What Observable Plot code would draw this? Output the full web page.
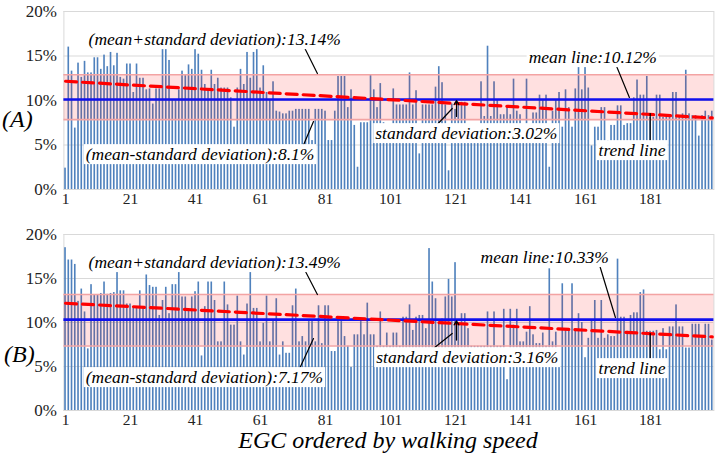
<!DOCTYPE html>
<html>
<head>
<meta charset="utf-8">
<script src="https://cdn.jsdelivr.net/npm/d3@7"></script>
<script src="https://cdn.jsdelivr.net/npm/@observablehq/plot@0.6"></script>
<style>
  html, body { margin: 0; padding: 0; background: #fff; }
  #wrap { position: relative; width: 719px; height: 459px; font-family: "Liberation Serif", serif; }
  #wrap svg { position: absolute; left: 0; }
  .plabel { position: absolute; font-style: italic; font-size: 24px; }
  #title { position: absolute; left: 63px; width: 650px; top: 427px; text-align: center; font-style: italic; font-size: 24px; }
</style>
</head>
<body>
<div id="wrap">
  <div class="plabel" style="left:2px; top:106px;">(A)</div>
  <div class="plabel" style="left:4px; top:341px;">(B)</div>
  <div id="title">EGC ordered by walking speed</div>
</div>
<script>
const FONT = "'Liberation Serif', serif";

// ---- data (percent values, bars 1..200) ----
const valuesA = [
2.4,16.0,13.3,6.9,14.2,12.6,14.4,13.1,13.1,14.8,14.8,13.5,15.1,13.8,15.4,13.9,15.3,12.6,12.4,14.1,
14.1,10.9,14.1,12.5,12.5,11.2,11.3,9.6,11.3,11.3,15.9,15.9,14.5,10.0,10.0,11.2,13.3,12.8,14.0,13.5,
16.0,15.2,13.4,11.8,11.1,13.4,11.8,12.5,11.4,11.4,11.4,10.3,7.0,11.4,13.5,11.8,15.4,12.5,15.4,15.8,
11.4,13.9,10.9,10.0,12.1,8.8,8.7,8.5,8.5,8.8,8.8,9.0,9.0,9.0,9.0,9.0,5.5,9.0,9.0,9.0,
8.8,5.5,5.5,8.8,12.7,12.7,12.7,9.2,11.2,7.2,2.5,7.5,7.5,7.5,12.9,11.2,9.2,11.9,7.5,6.2,
6.2,11.3,9.5,9.5,9.5,9.5,13.1,9.5,11.1,4.0,9.5,9.5,9.5,9.5,11.5,13.8,12.0,9.5,2.1,9.6,
9.0,9.6,9.8,9.8,5.5,5.5,5.5,5.5,12.1,8.2,16.1,8.2,12.1,10.0,8.4,8.4,9.2,8.4,12.4,8.8,
8.4,5.5,12.4,5.5,8.6,8.6,10.6,10.0,10.6,2.5,8.8,10.0,10.9,7.0,11.2,9.2,7.0,11.3,13.9,11.2,
13.9,11.4,4.9,7.0,7.0,9.2,9.2,5.5,7.2,7.2,9.4,9.4,7.2,7.4,7.4,10.3,12.3,10.6,10.6,12.7,
8.1,8.1,10.6,10.6,8.1,8.1,8.1,10.9,10.9,8.1,8.5,13.4,8.5,8.3,8.3,6.0,8.3,8.8,8.3,8.8
];
const valuesB = [
18.5,17.1,17.1,16.6,12.4,13.8,11.2,7.0,14.3,13.1,13.1,13.3,14.6,13.2,13.3,13.4,15.7,13.6,13.6,12.1,
12.1,11.6,11.8,13.6,11.6,15.4,14.2,14.0,14.0,10.8,12.5,14.0,11.0,14.3,14.3,15.7,12.9,12.9,11.5,12.9,
13.5,14.6,6.2,11.8,14.6,14.6,12.5,7.8,7.8,14.6,12.0,9.7,9.7,13.0,7.8,6.3,12.1,15.9,11.6,11.6,
7.8,9.9,13.0,7.8,10.1,12.7,6.3,7.8,6.5,6.5,11.9,13.8,7.8,8.4,7.8,10.1,10.1,7.8,11.9,7.6,
11.9,11.9,6.7,6.7,10.1,10.1,8.4,7.3,4.9,8.6,8.6,10.1,8.6,12.2,8.6,8.6,7.3,11.2,7.3,8.8,
7.3,8.8,8.8,7.3,10.6,10.6,12.0,9.1,10.6,10.8,10.8,9.3,18.4,14.6,12.7,9.9,10.4,12.9,14.9,12.9,
16.8,9.7,11.0,11.0,9.3,7.3,7.3,7.3,7.3,7.3,11.2,7.3,11.2,7.3,7.3,11.5,3.5,11.5,9.7,11.5,
7.8,7.8,8.9,11.8,8.6,7.6,7.6,8.8,7.3,16.1,7.8,8.9,5.8,14.4,9.1,9.1,14.4,9.1,11.0,10.0,
6.0,8.2,10.3,12.5,8.2,12.5,8.2,8.6,8.4,8.4,17.2,10.6,10.6,9.0,10.8,11.1,11.1,13.4,13.7,9.0,
9.0,9.0,9.1,6.9,9.3,6.9,9.5,9.5,12.0,9.5,9.5,7.1,7.1,9.8,9.8,9.8,8.3,9.8,9.8,8.0
];
// summary lines (percent) as drawn
const meanA = 10.12, bandA = [7.85, 12.9], trendA = [12.16, 8.04];
const meanB = 10.33, bandB = [7.33, 13.19], trendB = [12.19, 8.37];
const xTicks = [1, 21, 41, 61, 81, 101, 121, 141, 161, 181];
const yTicks = [0, 5, 10, 15, 20];

// annotation texts: [label, x (bar index), y (percent)]
const notesA = [
  ["(mean+standard deviation):13.14%", 8.1, 16.85],
  ["(mean-standard deviation):8.1%", 7.2, 3.93],
  ["standard deviation:3.02%", 96.3, 6.29],
  ["mean line:10.12%", 143.5, 14.83],
  ["trend line", 165.0, 4.38]
];
const notesB = [
  ["(mean+standard deviation):13.49%", 8.1, 16.82],
  ["(mean-standard deviation):7.17%", 7.2, 3.75],
  ["standard deviation:3.16%", 96.6, 6.02],
  ["mean line:10.33%", 128.7, 17.39],
  ["trend line", 165.0, 4.77]
];
// arrows: [x1, y1, x2, y2, bend]
const arrowsA = [
  [74.2, 16.18, 78.5, 13.03, 0],
  [73.9, 4.72, 77.3, 7.64, 0],
  [114.8, 7.08, 120.0, 9.10, 35],
  [170.2, 14.16, 174.5, 10.34, 0],
  [180.9, 5.5, 180.9, 8.54, 0]
];
const arrowsB = [
  [74.2, 16.25, 78.5, 13.18, 0],
  [72.3, 4.2, 77.3, 8.18, 0],
  [114.2, 7.05, 120.0, 8.75, 35],
  [164.7, 17.27, 170.2, 10.57, 0],
  [180.9, 5.91, 180.9, 8.75, 0]
];
// small sd marker arrow: [x, yTop, yBottom]
const sdMarkA = [121.3, 10.0, 8.2];
const sdMarkB = [121.3, 10.2, 8.0];

function panel(values, mean, band, trend, notes, arrows, sdMark, opts) {
  const bars = values.map((v, k) => ({i: k + 1, v}));
  const trendPts = [{i: 1, v: trend[0]}, {i: values.length, v: trend[1]}];
  const noteData = notes.map(([t, x, y]) => ({t, x, y}));
  const arrowData = arrows.map(([x1, y1, x2, y2, bend]) => ({x1, y1, x2, y2, bend}));
  return Plot.plot({
    width: 719, height: opts.height,
    marginLeft: 63.4, marginRight: 5.6, marginTop: opts.marginTop, marginBottom: opts.marginBottom,
    style: {fontFamily: FONT, background: "transparent"},
    x: {domain: [0.5, values.length + 0.5]},
    y: {domain: [0, 20]},
    marks: [
      Plot.gridY(yTicks, {stroke: "#d9d9d9", strokeOpacity: 1}),
      Plot.frame({stroke: "#d9d9d9"}),
      Plot.rectY(bars, {x1: d => d.i - 0.25, x2: d => d.i + 0.25, y: "v", fill: "#4f81bd"}),
      Plot.rect([band], {x1: 0.5, x2: values.length + 0.5, y1: d => d[0], y2: d => d[1], fill: "#ff0000", fillOpacity: 0.12}),
      Plot.ruleY(band, {stroke: "#f3a3a3", strokeWidth: 1.6}),
      Plot.ruleY([mean], {stroke: "#1010ee", strokeWidth: 2.6}),
      Plot.line(trendPts, {x: "i", y: "v", stroke: "#ff0000", strokeWidth: 3.2, strokeDasharray: "11,6"}),
      Plot.arrow(arrowData, {x1: "x1", y1: "y1", x2: "x2", y2: "y2", bend: d => d.bend, stroke: "black", strokeWidth: 1.2, headLength: 9}),
      Plot.arrow([sdMark], {x1: d => d[0], x2: d => d[0], y1: d => d[2], y2: d => d[1], stroke: "black", strokeWidth: 1.2, headLength: 6}),
      Plot.text(noteData, {x: "x", y: "y", text: "t", textAnchor: "start", lineAnchor: "middle", fontSize: 17.5, fontStyle: "italic", fill: "black", className: "note"}),
      Plot.axisX(xTicks, {tickSize: 0, tickPadding: 3, fontSize: 15.5, fill: "#222"}),
      Plot.axisY(yTicks, {tickSize: 0, tickPadding: 7, fontSize: 17, tickFormat: d => d + "%", fill: "#222"})
    ]
  });
}

const wrap = document.getElementById("wrap");
const svgA = panel(valuesA, meanA, bandA, trendA, notesA, arrowsA, sdMarkA, {height: 210, marginTop: 11, marginBottom: 21});
svgA.style.top = "0px";
wrap.appendChild(svgA);
const svgB = panel(valuesB, meanB, bandB, trendB, notesB, arrowsB, sdMarkB, {height: 210, marginTop: 11, marginBottom: 23});
svgB.style.top = "223px";
wrap.appendChild(svgB);

// white boxes behind annotation texts
for (const svg of [svgA, svgB]) {
  svg.querySelectorAll("g.note text").forEach(t => {
    const b = t.getBBox();
    const r = document.createElementNS("http://www.w3.org/2000/svg", "rect");
    r.setAttribute("x", b.x - 2); r.setAttribute("y", b.y);
    r.setAttribute("width", b.width + 4); r.setAttribute("height", b.height);
    r.setAttribute("fill", "white");
    const tr = t.getAttribute("transform");
    if (tr) r.setAttribute("transform", tr);
    t.parentNode.insertBefore(r, t);
  });
}
</script>
</body>
</html>
